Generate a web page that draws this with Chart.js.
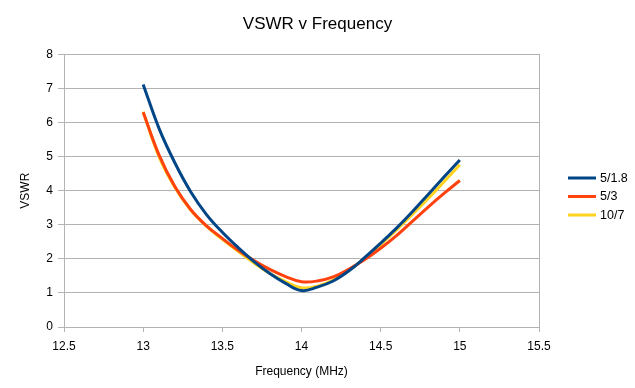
<!DOCTYPE html>
<html>
<head>
<meta charset="utf-8">
<script src="https://cdn.jsdelivr.net/npm/chart.js@4"></script>
<style>
  html, body { margin: 0; padding: 0; background: #fff; }
  #wrap { width: 635px; height: 388px; }
</style>
</head>
<body>
<div id="wrap"><canvas id="c" width="635" height="388"></canvas></div>
<script>
const frequencies = [13.0, 13.1, 13.2, 13.3, 13.4, 13.5, 13.6, 13.7, 13.8, 13.9, 14.0,
                     14.1, 14.2, 14.3, 14.4, 14.5, 14.6, 14.7, 14.8, 14.9, 15.0];
const seriesNames = ['5/1.8', '5/3', '10/7'];
const vswr_5_1_8 = [7.12, 5.83, 4.82, 3.97, 3.30, 2.78, 2.33, 1.92, 1.57, 1.28, 1.07,
                    1.17, 1.35, 1.65, 2.04, 2.46, 2.90, 3.38, 3.89, 4.40, 4.90];
const vswr_5_3   = [6.30, 5.05, 4.12, 3.45, 2.97, 2.60, 2.25, 1.95, 1.69, 1.48, 1.33,
                    1.35, 1.47, 1.70, 1.98, 2.31, 2.68, 3.10, 3.52, 3.92, 4.30];
const vswr_10_7  = [6.32, 5.00, 4.10, 3.43, 2.96, 2.57, 2.22, 1.88, 1.57, 1.33, 1.15,
                    1.20, 1.38, 1.67, 2.02, 2.42, 2.85, 3.30, 3.77, 4.26, 4.76];
const xTicks = { min: 12.5, max: 15.5, step: 0.5 };
const yTicks = { min: 0, max: 8, step: 1 };

const colors = ['#004586', '#ff420e', '#ffd320'];
const grey = '#b3b3b3';
const FONT = "'Liberation Sans', Arial, sans-serif";

function pts(vals) { return frequencies.map((f, i) => ({ x: f, y: vals[i] })); }
const allSeries = [vswr_5_1_8, vswr_5_3, vswr_10_7];

const legendPlugin = {
  id: 'sideLegend',
  afterDraw(chart) {
    const ctx = chart.ctx;
    const ca = chart.chartArea;
    const x0 = ca.right + 29;
    const y0 = 178;
    const gap = 18.5;
    ctx.save();
    ctx.font = '12.5px ' + FONT;
    ctx.textBaseline = 'middle';
    ctx.textAlign = 'left';
    chart.data.datasets.forEach((ds, i) => {
      const y = y0 + i * gap;
      ctx.strokeStyle = ds.borderColor;
      ctx.lineWidth = 3;
      ctx.beginPath();
      ctx.moveTo(x0, y);
      ctx.lineTo(x0 + 28, y);
      ctx.stroke();
      ctx.fillStyle = '#000';
      ctx.fillText(ds.label, x0 + 32, y + 0.5);
    });
    ctx.restore();
  }
};

new Chart(document.getElementById('c'), {
  type: 'line',
  data: {
    datasets: seriesNames.map((name, i) => ({
      label: name,
      data: pts(allSeries[i]),
      borderColor: colors[i],
      backgroundColor: colors[i],
      borderWidth: 3,
      pointRadius: 0,
      tension: 0.4,
      fill: false
    }))
  },
  options: {
    responsive: false,
    animation: false,
    layout: { padding: { left: 0, right: 0, top: 0, bottom: 0 } },
    plugins: {
      legend: { display: false },
      tooltip: { enabled: false },
      title: {
        display: true,
        text: 'VSWR v Frequency',
        color: '#000',
        font: { family: FONT, size: 17, weight: 'normal' },
        padding: { top: 14, bottom: 20 }
      }
    },
    scales: {
      x: {
        type: 'linear',
        min: xTicks.min, max: xTicks.max,
        afterFit(scale) { scale.height = 61; },
        ticks: {
          stepSize: xTicks.step,
          color: '#000',
          font: { family: FONT, size: 12 },
          padding: 7,
          maxRotation: 0,
          callback: (v) => String(Math.round(v * 10) / 10)
        },
        grid: {
          drawOnChartArea: false,
          color: grey,
          tickColor: grey,
          tickLength: 5,
          lineWidth: 1
        },
        border: { display: true, color: grey, width: 1 },
        title: {
          display: true,
          text: 'Frequency (MHz)',
          color: '#000',
          font: { family: FONT, size: 12 },
          padding: { top: 0, bottom: 9 }
        }
      },
      y: {
        min: yTicks.min, max: yTicks.max,
        afterFit(scale) { scale.width = 64; },
        ticks: {
          stepSize: yTicks.step,
          color: '#000',
          font: { family: FONT, size: 12 },
          padding: 5
        },
        grid: {
          color: grey,
          tickColor: grey,
          tickLength: 6,
          lineWidth: 1
        },
        border: { display: true, color: grey, width: 1 },
        title: {
          display: true,
          text: 'VSWR',
          color: '#000',
          font: { family: FONT, size: 12 },
          padding: { top: 18, bottom: 0 }
        }
      },
      yRight: {
        position: 'right',
        min: yTicks.min, max: yTicks.max,
        afterFit(scale) { scale.width = 96; },
        ticks: { display: false },
        grid: { display: false },
        border: { display: true, color: grey, width: 1 }
      }
    }
  },
  plugins: [legendPlugin]
});
</script>
</body>
</html>
